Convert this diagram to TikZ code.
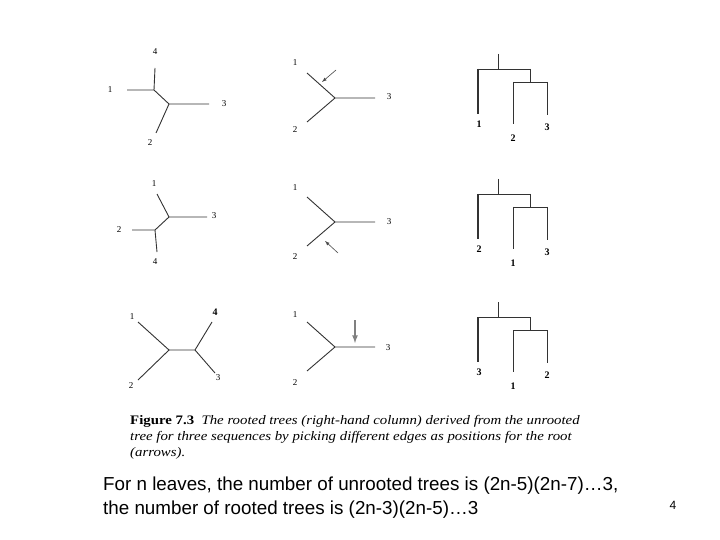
\documentclass[tikz,border=0pt]{standalone}
\usepackage{fontspec}
\setmainfont{Liberation Serif}
\newfontfamily\arialf{Liberation Sans}
\begin{document}
\begin{tikzpicture}[x=1pt,y=-1pt,
 br/.style={draw=black!80,line width=0.9pt},
 thk/.style={draw=black!80,line width=1.6pt},
 lab/.style={font=\fontsize{9}{10}\selectfont,inner sep=0pt},
 blab/.style={font=\fontsize{10}{11}\selectfont\bfseries,inner sep=0pt},
 arr/.style={draw=black!70,line width=0.6pt,-latex},
 captxt/.style={anchor=west,inner sep=0pt,xscale=1.14,font=\fontsize{13}{14}\selectfont\itshape},
 big/.style={anchor=west,inner sep=0pt,font=\arialf\fontsize{18.8}{20}\selectfont}]
\useasboundingbox[fill=white] (0,0) rectangle (720,540);
% ---------- row 1 left
\coordinate (a1) at (154,90); \coordinate (b1) at (169,104);
\coordinate (e11) at (127,90); \coordinate (e14) at (155,68);
\coordinate (e13) at (209,104); \coordinate (e12) at (156,133);
\draw[br] (e11)--(a1)--(e14); \draw[br] (a1)--(b1)--(e13); \draw[br] (b1)--(e12);
\node[lab] (l11) at (110,90) {1}; \node[lab] (l14) at (155,52) {4};
\node[lab] (l13) at (224,104) {3}; \node[lab] (l12) at (150,143) {2};
% row 1 middle
\coordinate (m1) at (335,98);
\coordinate (m11) at (307,73); \coordinate (m13) at (375,98); \coordinate (m12) at (307,122);
\draw[br] (m11)--(m1)--(m13); \draw[br] (m1)--(m12);
\node[lab] at (295,63) {1}; \node[lab] at (389,97) {3}; \node[lab] at (295,130) {2};
\coordinate (ar1s) at (336,70); \coordinate (ar1e) at (322,82);
\draw[arr] (ar1s)--(ar1e);
% ---------- row 2 left
\coordinate (a2) at (169,217); \coordinate (b2) at (155,230);
\coordinate (e21) at (157,194); \coordinate (e23) at (207,217);
\coordinate (e22) at (132,230); \coordinate (e24) at (157,252);
\draw[br] (e21)--(a2)--(e23); \draw[br] (a2)--(b2)--(e22); \draw[br] (b2)--(e24);
\node[lab] at (154,184) {1}; \node[lab] at (214,216) {3};
\node[lab] at (119,230) {2}; \node[lab] at (155,262) {4};
% row 2 middle
\coordinate (m2) at (335,222);
\coordinate (m21) at (307,197); \coordinate (m23) at (375,222); \coordinate (m22) at (307,246);
\draw[br] (m21)--(m2)--(m23); \draw[br] (m2)--(m22);
\node[lab] at (295,188) {1}; \node[lab] at (389,222) {3}; \node[lab] at (295,257) {2};
\coordinate (ar2s) at (338,253); \coordinate (ar2e) at (325,241);
\draw[arr] (ar2s)--(ar2e);
% ---------- row 3 left
\coordinate (a3) at (169,350); \coordinate (b3) at (195,350);
\coordinate (e31) at (138,322); \coordinate (e32) at (138,380);
\coordinate (e34) at (212,322); \coordinate (e33) at (215,373);
\draw[br] (e31)--(a3)--(e32); \draw[br] (a3)--(b3)--(e34); \draw[br] (b3)--(e33);
\node[lab] at (132,317) {1}; \node[blab] at (215,312) {4};
\node[lab] at (218,378) {3}; \node[lab] at (131,386) {2};
% row 3 middle
\coordinate (m3) at (335,347);
\coordinate (m31) at (307,322); \coordinate (m33) at (375,347); \coordinate (m32) at (307,371);
\draw[br] (m31)--(m3)--(m33); \draw[br] (m3)--(m32);
\node[lab] at (295,315) {1}; \node[lab] at (388,348) {3}; \node[lab] at (295,383) {2};
\coordinate (ar3s) at (355,320); \coordinate (ar3e) at (355,343);
\draw[draw=black!50,line width=1.6pt,-latex] (ar3s)--(ar3e);
% ---------- rooted trees
\foreach \oy/\ta/\tb/\tc in {0/1/2/3, 125/2/1/3, 248/3/1/2}{
 \begin{scope}[yshift=-\oy]
  \draw[br] (498,54)--(498,69);
  \draw[br] (478,69)--(530,69);
  \draw[thk] (478,69)--(478,114);
  \draw[br] (530,69)--(530,82);
  \draw[br] (513,82)--(547,82);
  \draw[br] (513,82)--(513,124);
  \draw[br] (547,82)--(547,115);
  \node[blab] at (479,124) {\ta};
  \node[blab] at (513,138) {\tb};
  \node[blab] at (547,127) {\tc};
 \end{scope}}
% caption
\node[captxt] (c1) at (130,421) {{\upshape\bfseries Figure 7.3}\ \ The rooted trees (right-hand column) derived from the unrooted};
\node[captxt] (c2) at (130,437) {tree for three sequences by picking different edges as positions for the root};
\node[captxt] (c3) at (130,453) {(arrows).};
% bottom text
\node[big] (t1) at (103,486) {For n leaves, the number of unrooted trees is (2n-5)(2n-7)…3,};
\node[big] (t2) at (103,510) {the number of rooted trees is (2n-3)(2n-5)…3};
\node[inner sep=0pt,font=\arialf\fontsize{12}{14}\selectfont] (pg) at (673,505) {4};
\end{tikzpicture}
\end{document}
